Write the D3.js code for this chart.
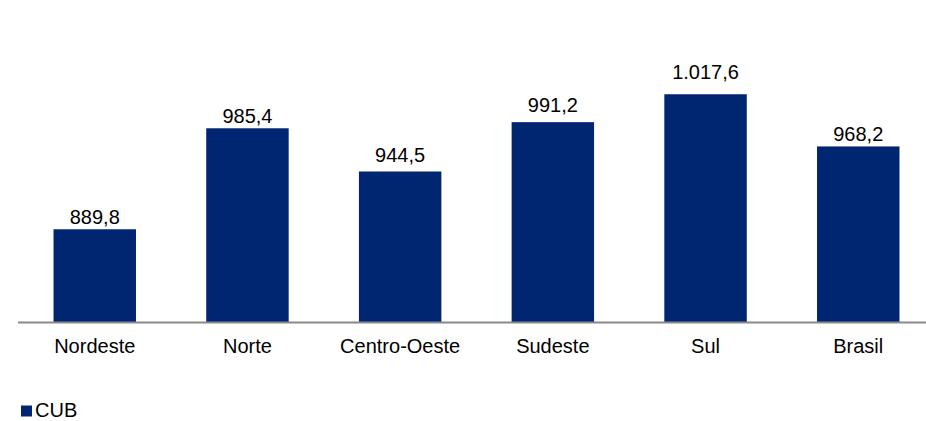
<!DOCTYPE html>
<html>
<head>
<meta charset="utf-8">
<script src="https://cdn.jsdelivr.net/npm/d3@7"></script>
<style>
  html, body { margin: 0; padding: 0; background: #fff; }
  svg { display: block; font-family: "Liberation Sans", Arial, sans-serif; }
</style>
</head>
<body>
<svg id="chart" width="926" height="421"></svg>
<script>
const categories = ["Nordeste", "Norte", "Centro-Oeste", "Sudeste", "Sul", "Brasil"];
const values = [889.8, 985.4, 944.5, 991.2, 1017.6, 968.2];
const seriesName = "CUB";

// layout only: gap (px) between each value label and its bar top, as in the reference
const labelGaps = [5, 5.5, 9, 10, 15, 5.5];

const svg = d3.select("#chart");
const W = 926, H = 421;
const baseY = 322;

const x = d3.scaleBand()
  .domain(categories)
  .range([18.4, 934.6])
  .paddingInner(0.46)
  .paddingOuter(0.23);

const y = d3.scaleLinear()
  .domain([802, 1050])
  .range([baseY, baseY - 248 * 1.0563]);

const fmt = v => {
  const parts = v.toFixed(1).split(".");
  const intPart = parts[0].replace(/\B(?=(\d{3})+(?!\d))/g, ".");
  return intPart + "," + parts[1];
};

const barColor = "#002672";

svg.selectAll("rect.bar")
  .data(values)
  .join("rect")
  .attr("class", "bar")
  .attr("x", (d, i) => x(categories[i]))
  .attr("width", x.bandwidth())
  .attr("y", d => y(d))
  .attr("height", d => baseY - y(d))
  .attr("fill", barColor);

svg.selectAll("text.val")
  .data(values)
  .join("text")
  .attr("class", "val")
  .attr("x", (d, i) => x(categories[i]) + x.bandwidth() / 2)
  .attr("y", (d, i) => y(d) - labelGaps[i])
  .attr("text-anchor", "middle")
  .attr("font-size", 20)
  .attr("fill", "#000")
  .text(d => fmt(d));

// axis line
svg.append("line")
  .attr("x1", 18).attr("x2", W)
  .attr("y1", baseY + 0.5).attr("y2", baseY + 0.5)
  .attr("stroke", "#898989")
  .attr("stroke-width", 2);

// category labels
svg.selectAll("text.cat")
  .data(categories)
  .join("text")
  .attr("class", "cat")
  .attr("x", d => x(d) + x.bandwidth() / 2)
  .attr("y", 353)
  .attr("text-anchor", "middle")
  .attr("font-size", 20)
  .attr("fill", "#000")
  .text(d => d);

// legend
const lg = svg.append("g");
lg.append("rect")
  .attr("x", 21).attr("y", 405.5)
  .attr("width", 11).attr("height", 11)
  .attr("fill", barColor);
lg.append("text")
  .attr("x", 35).attr("y", 416.5)
  .attr("font-size", 20)
  .attr("fill", "#000")
  .text(seriesName);
</script>
</body>
</html>
